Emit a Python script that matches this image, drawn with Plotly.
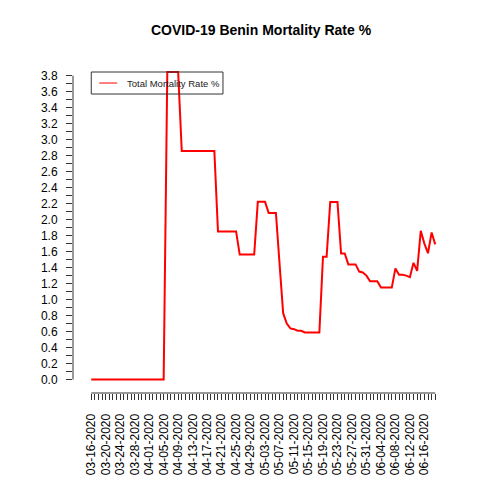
import pandas as pd
import plotly.graph_objects as go

# ---- data ----
START_DATE = "2020-03-16"
END_DATE = "2020-06-19"
dates = pd.date_range(START_DATE, END_DATE, freq="D")

mortality_rate = [
    0, 0, 0, 0, 0, 0, 0, 0, 0, 0,
    0, 0, 0, 0, 0, 0, 0, 0, 0, 0,
    0,
    3.846, 3.846, 3.846, 3.846,
    2.857, 2.857, 2.857, 2.857, 2.857, 2.857, 2.857, 2.857, 2.857, 2.857,
    1.852, 1.852, 1.852, 1.852, 1.852, 1.852,
    1.563, 1.563, 1.563, 1.563, 1.563,
    2.222, 2.222, 2.222,
    2.083, 2.083, 2.083,
    1.45,
    0.83, 0.70, 0.64, 0.63, 0.61, 0.61,
    0.59, 0.59, 0.59, 0.59, 0.59,
    1.535, 1.535,
    2.22, 2.22, 2.22,
    1.577, 1.577,
    1.44, 1.44, 1.44,
    1.35, 1.34, 1.30,
    1.23, 1.23, 1.23,
    1.15, 1.15, 1.15, 1.15,
    1.39, 1.31, 1.31, 1.30, 1.28, 1.46, 1.36, 1.86, 1.70, 1.58, 1.84, 1.69,
]

series_name = "Total Mortality Rate %"
title_text = "COVID-19 Benin Mortality Rate %"

y_major_ticks = [round(0.2 * i, 1) for i in range(20)]          # 0.0 .. 3.8
y_minor_ticks = [round(0.1 * i, 1) for i in range(1, 38, 2)]    # 0.1 .. 3.7
x_major_ticks = list(dates[::4])
x_minor_ticks = list(dates)

FONT = "Liberation Sans, Arial, Helvetica, sans-serif"
LINE_RED = "#ff0000"
AXIS_COL = "#333333"

# page body has an 8px margin; compensate so the plot lands where intended
OFF = 8
PLOT_L, PLOT_R, PLOT_T, PLOT_B = 72.7, 449.5, 60.0, 392.7   # intended pixel box
W = PLOT_R - PLOT_L
H = PLOT_B - PLOT_T


def px_x(px):
    return (px - PLOT_L) / W


def px_y(py):
    return 1 - (py - PLOT_T) / H


fig = go.Figure()
fig.add_trace(go.Scatter(
    x=dates, y=mortality_rate, mode="lines", name=series_name,
    line=dict(color=LINE_RED, width=2), showlegend=False,
))

x_lo = dates[0] - pd.Timedelta(days=5.04)
x_hi = dates[-1] + pd.Timedelta(days=3.8)

fig.update_layout(
    width=480, height=480,
    paper_bgcolor="white", plot_bgcolor="white",
    margin=dict(l=PLOT_L - OFF, r=480 - PLOT_R + OFF, t=PLOT_T - OFF,
                b=480 - PLOT_B + OFF, autoexpand=False),
    font=dict(family=FONT, size=12, color="black"),
    title=dict(text="<b>" + title_text + "</b>", x=0.5, xref="paper",
               y=1 - (30.5 - OFF) / 480, yref="container",
               xanchor="center", yanchor="middle",
               font=dict(family=FONT, size=14, color="black")),
    showlegend=False,
    xaxis=dict(
        type="date", range=[x_lo, x_hi], showgrid=False, zeroline=False, showline=False,
        tickmode="array", tickvals=x_major_ticks, tickformat="%m-%d-%Y",
        tickangle=-90, ticks="outside", ticklen=6, tickcolor=AXIS_COL, tickwidth=1,
        ticklabelstandoff=9,
        tickfont=dict(family=FONT, size=12, color="black"),
        minor=dict(tickmode="array", tickvals=x_minor_ticks, ticks="outside",
                   ticklen=6, tickcolor=AXIS_COL, tickwidth=1, showgrid=False),
    ),
    yaxis=dict(
        range=[-0.168, 3.996], showgrid=False, zeroline=False, showline=False,
        tickmode="array", tickvals=y_major_ticks,
        ticktext=[f"{v:.1f}" for v in y_major_ticks],
        ticks="outside", ticklen=6, tickcolor=AXIS_COL, tickwidth=1,
        ticklabelstandoff=6,
        tickfont=dict(family=FONT, size=12, color="black"),
        minor=dict(tickmode="array", tickvals=y_minor_ticks, ticks="outside",
                   ticklen=6, tickcolor=AXIS_COL, tickwidth=1, showgrid=False),
    ),
)

# R-style axis lines spanning only first..last tick
fig.add_shape(type="line", xref="x", yref="paper",
              x0=x_minor_ticks[0], x1=x_minor_ticks[-1], y0=0, y1=0,
              line=dict(color=AXIS_COL, width=1))
fig.add_shape(type="line", xref="paper", yref="y",
              x0=0, x1=0, y0=y_major_ticks[0], y1=y_major_ticks[-1],
              line=dict(color=AXIS_COL, width=1))

# legend box (R-style), built from the series name and colour
fig.add_shape(type="rect", xref="paper", yref="paper",
              x0=px_x(91), x1=px_x(223), y0=px_y(94), y1=px_y(72),
              line=dict(color=AXIS_COL, width=1), fillcolor="rgba(0,0,0,0)", layer="above")
fig.add_shape(type="line", xref="paper", yref="paper",
              x0=px_x(99), x1=px_x(117), y0=px_y(83), y1=px_y(83),
              line=dict(color=LINE_RED, width=1), layer="above")
fig.add_annotation(text=series_name, xref="paper", yref="paper",
                   x=px_x(125), y=px_y(83), xanchor="left", yanchor="middle",
                   showarrow=False, font=dict(family=FONT, size=9.5, color="#222222"))

fig.write_html("out.html")
